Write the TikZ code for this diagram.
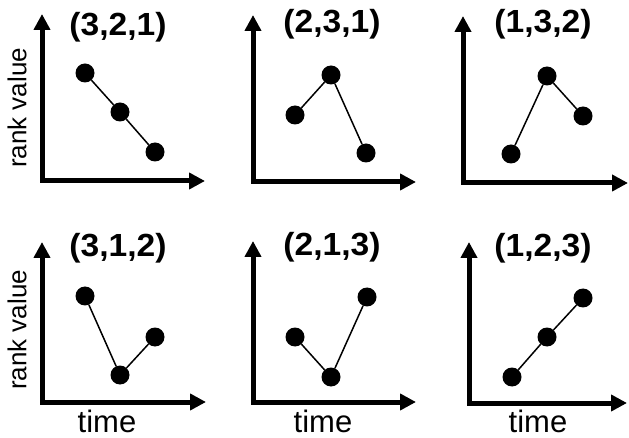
\documentclass[tikz,border=0pt]{standalone}
\usepackage{fontspec}
\setmainfont{Liberation Sans}
\usetikzlibrary{arrows.meta}
\begin{document}
\begin{tikzpicture}[x=1pt,y=-1pt,
  axes/.style={line width=5pt,line join=miter,{Triangle[length=16pt,width=16pt]}-{Triangle[length=16pt,width=16pt]}},
  dot/.style={circle,fill=black,inner sep=0pt,minimum size=19pt},
  link/.style={line width=1.5pt},
  ttl/.style={font=\fontsize{32}{32}\selectfont\bfseries,inner sep=0pt},
  axlabel/.style={font=\fontsize{31}{31}\selectfont,inner sep=0pt,text depth=0pt,anchor=base},
  ylabel/.style={font=\fontsize{26}{26}\selectfont,inner sep=0pt,rotate=90}]
\useasboundingbox (0,0) rectangle (629,438);
% panel 1
\coordinate (c1) at (42,181); \coordinate (y1) at (42,14); \coordinate (x1) at (205,181);
\draw[axes] (y1) -- (c1) -- (x1);
\node[dot] (a1) at (85,73) {}; \node[dot] (b1) at (120,112) {}; \node[dot] (d1) at (155,152) {};
\draw[link] (a1) -- (b1) -- (d1);
\node[ttl] (t1) at (118,27) {\scalebox{1.05}[1]{(3,2,1)}};
% panel 2
\coordinate (c2) at (253,182); \coordinate (y2) at (253,15); \coordinate (x2) at (416,182);
\draw[axes] (y2) -- (c2) -- (x2);
\node[dot] (a2) at (295,115) {}; \node[dot] (b2) at (331,75) {}; \node[dot] (d2) at (366,153) {};
\draw[link] (a2) -- (b2) -- (d2);
\node[ttl] (t2) at (332,24) {\scalebox{1.05}[1]{(2,3,1)}};
% panel 3
\coordinate (c3) at (463,183); \coordinate (y3) at (463,16); \coordinate (x3) at (628,183);
\draw[axes] (y3) -- (c3) -- (x3);
\node[dot] (a3) at (511,154) {}; \node[dot] (b3) at (547,76) {}; \node[dot] (d3) at (583,116) {};
\draw[link] (a3) -- (b3) -- (d3);
\node[ttl] (t3) at (543,24) {\scalebox{1.05}[1]{(1,3,2)}};
% panel 4
\coordinate (c4) at (42,402); \coordinate (y4) at (42,242); \coordinate (x4) at (206,402);
\draw[axes] (y4) -- (c4) -- (x4);
\node[dot] (a4) at (85,296) {}; \node[dot] (b4) at (120,375) {}; \node[dot] (d4) at (155,337) {};
\draw[link] (a4) -- (b4) -- (d4);
\node[ttl] (t4) at (118,248) {\scalebox{1.05}[1]{(3,1,2)}};
% panel 5
\coordinate (c5) at (253,402); \coordinate (y5) at (253,241); \coordinate (x5) at (416,402);
\draw[axes] (y5) -- (c5) -- (x5);
\node[dot] (a5) at (295,337) {}; \node[dot] (b5) at (331,377) {}; \node[dot] (d5) at (367,297) {};
\draw[link] (a5) -- (b5) -- (d5);
\node[ttl] (t5) at (332,247) {\scalebox{1.05}[1]{(2,1,3)}};
% panel 6
\coordinate (c6) at (469,403); \coordinate (y6) at (469,242); \coordinate (x6) at (627,403);
\draw[axes] (y6) -- (c6) -- (x6);
\node[dot] (a6) at (512,377) {}; \node[dot] (b6) at (547,337) {}; \node[dot] (d6) at (583,298) {};
\draw[link] (a6) -- (b6) -- (d6);
\node[ttl] (t6) at (543,248) {\scalebox{1.05}[1]{(1,2,3)}};
% axis labels
\node[ylabel] (r1) at (17,108) {rank value};
\node[ylabel] (r2) at (17,330) {rank value};
\node[axlabel] (m4) at (107,432) {time};
\node[axlabel] (m5) at (323,432) {time};
\node[axlabel] (m6) at (538,432) {time};
\end{tikzpicture}
\end{document}
